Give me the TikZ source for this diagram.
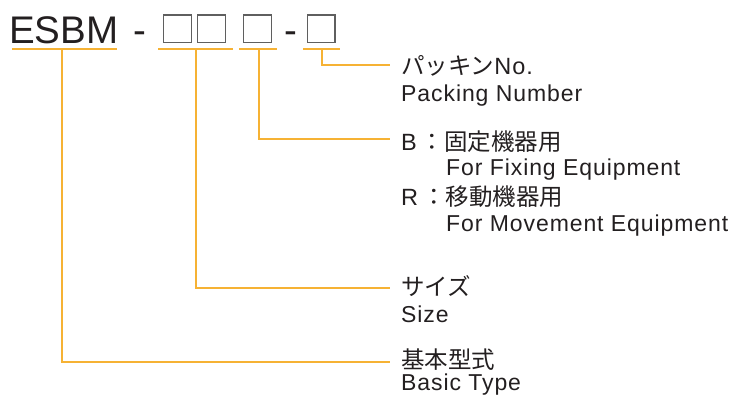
\documentclass[tikz,border=0pt]{standalone}
\usepackage{fontspec}
\setmainfont{Liberation Sans}
\newfontfamily\labfont{Liberation Sans}[LetterSpace=4]
\newfontfamily\jpfont{Noto Sans CJK JP}
\usepackage{xcolor}
\definecolor{leadorange}{RGB}{246,178,52}
\definecolor{boxgray}{RGB}{95,95,95}
\definecolor{ink}{RGB}{35,31,32}
\usetikzlibrary{positioning,calc}

\begin{document}
\begin{tikzpicture}[x=1pt,y=-1pt,
  code/.style={inner sep=0pt,anchor=base west,text=ink,font=\fontsize{38.5}{40}\selectfont},
  slot/.style={draw=boxgray,line width=1.3pt,minimum size=27.7pt,inner sep=0pt},
  uline/.style={leadorange,line width=1.4pt},
  lead/.style={leadorange,line width=1.1pt},
  lab/.style={inner sep=0pt,anchor=base west,text=ink,font=\fontsize{23}{26}\labfont},
  jlab/.style={inner sep=0pt,anchor=base west,text=ink,font=\fontsize{23.5}{26}\jpfont}]
\useasboundingbox (0,0) rectangle (734,396);

% code line
\node[code] (esbm) at (9,44) {ESBM};
\node[code] (dasha) at (133,44) {-};
\node[slot] (sa) at (177.5,29) {};
\node[slot] (sb) at (211.5,29) {};
\node[slot] (sc) at (257.5,29) {};
\node[code] (dashb) at (284,44) {-};
\node[slot] (sd) at (321,29) {};

% underlines
\draw[uline] (12,49) -- (117,49);
\draw[uline] (158,49) -- (233,49);
\draw[uline] (239,49) -- (277,49);
\draw[uline] (303,49) -- (340,49);
\coordinate (ua) at (62,49);
\coordinate (ub) at (196,49);
\coordinate (uc) at (259,49);
\coordinate (ud) at (322,49);

% labels
\node[jlab] (pk) at (401,75) {パッキン{\labfont No.}};
\node[lab] (pken) at (401,101.5) {Packing Number};
\node[jlab] (fix) at (401,150) {{\labfont B}\,：固定機器用};
\node[lab] (fixen) at (446,175) {For Fixing Equipment};
\node[jlab] (mov) at (401,205) {{\labfont R}\,：移動機器用};
\node[lab] (moven) at (446,231) {For Movement Equipment};
\node[jlab] (size) at (401,295) {サイズ};
\node[lab] (sizeen) at (401,322) {Size};
\node[jlab] (basic) at (401,368) {基本型式};
\node[lab] (basicen) at (401,390) {Basic Type};

% leaders
\coordinate (ed) at (390,65);
\coordinate (ec) at (390,139);
\coordinate (eb) at (390,288);
\coordinate (ea) at (390,362);
\draw[lead] (ud) |- (ed);
\draw[lead] (uc) |- (ec);
\draw[lead] (ub) |- (eb);
\draw[lead] (ua) |- (ea);

\end{tikzpicture}
\end{document}
